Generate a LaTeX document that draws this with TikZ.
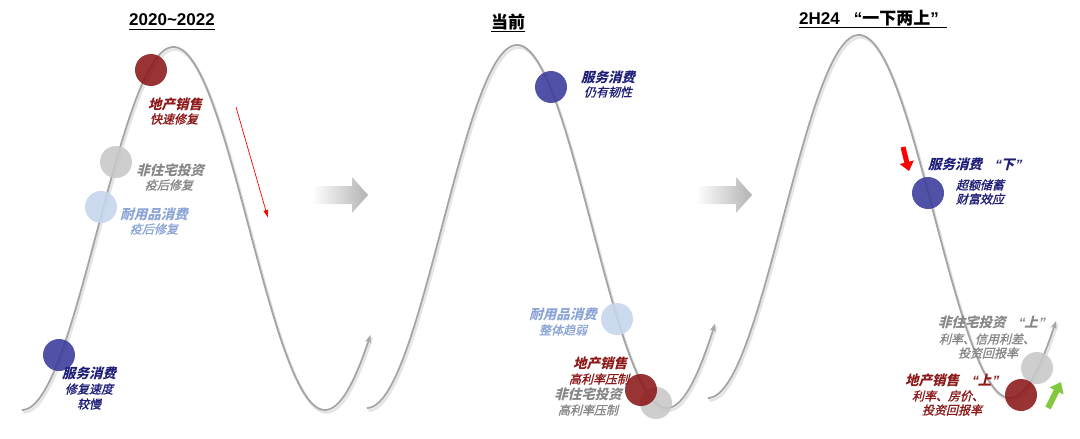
\documentclass[tikz,border=0pt]{standalone}
\usepackage{fontspec}
\setmainfont{Liberation Sans}
\newfontfamily\cjk{Noto Sans CJK SC}
\newfontfamily\cjki{Noto Sans CJK SC}[FakeSlant=0.25]
\newfontfamily\cjkm{Noto Sans CJK SC}[FakeSlant=0.25,FakeBold=1.2]
\newfontfamily\lati{Liberation Sans}[FakeSlant=0.25]
\usetikzlibrary{arrows.meta}
\definecolor{dred}{RGB}{140,24,24}
\definecolor{cnavy}{RGB}{30,30,120}
\definecolor{cblue}{RGB}{58,58,155}
\definecolor{lblue}{RGB}{140,165,215}
\definecolor{clblue}{RGB}{198,214,238}
\definecolor{tgray}{RGB}{135,135,135}
\definecolor{cgray}{RGB}{200,200,200}
\definecolor{curvegray}{RGB}{165,165,165}
\definecolor{lgreen}{RGB}{130,200,60}
\newcommand\mywave[5]{%
  \draw[wavesh, domain=#1:#5, samples=160, shift={(1.5,2.5)}] plot (\x, {#3-#4*(1-cos(((\x-#1)/#2)*360))/2});
  \draw[wavecurve, domain=#1:#5, samples=160] plot (\x, {#3-#4*(1-cos(((\x-#1)/#2)*360))/2});
}
\newcommand\myq[1]{{\lati\bfseries “}#1{\lati\bfseries ”}}
\tikzset{
  wavecurve/.style={draw=curvegray, line width=1.8pt, -{Stealth[length=8pt,width=6pt]}},
  wavesh/.style={draw=black!10, line width=2.6pt},
  bigdot/.style={circle, minimum size=32pt, inner sep=0pt, fill opacity=0.88, draw=none},
  hd/.style={font=\cjki\bfseries\fontsize{13.5}{15}\selectfont, inner sep=0pt},
  sb/.style={font=\cjkm\fontsize{12}{14}\selectfont, inner sep=0pt},
  ttl/.style={font=\bfseries\fontsize{17}{20}\selectfont, inner sep=0pt},
  uline/.style={line width=1.3pt, black},
  bigarrow/.style={left color=white, right color=black!30},
  blockred/.style={draw=red, line width=5pt, -{Triangle[length=9pt,width=14pt]}},
  blockgreen/.style={draw=lgreen, line width=6pt, -{Triangle[length=10pt,width=15pt]}},
}
\begin{document}
\begin{tikzpicture}[x=1pt,y=-1pt]
\useasboundingbox[fill=white] (0,0) rectangle (1080,439);

% ---------- curves ----------
\mywave{22}{303}{410}{363}{370.5}
\mywave{367}{300}{408}{363}{715}
\mywave{708}{302}{398}{363}{1056}

% ---------- titles ----------
\node[ttl] (t1) at (172,20) {2020\textasciitilde2022};
\draw[uline] ([yshift=-3pt]t1.south west) -- ([yshift=-3pt]t1.south east);
\node[ttl, font=\cjk\bfseries\fontsize{17}{20}\selectfont] (t2) at (508,22) {当前};
\draw[uline] ([yshift=-1pt]t2.south west) -- ([yshift=-1pt]t2.south east);
\node[ttl, anchor=west] (t3) at (799,18) {2H24\hspace{14pt}“{\cjk\bfseries 一下两上}”};
\draw[uline] ([yshift=-1pt]t3.south west) -- ([yshift=-1pt,xshift=8pt]t3.south east);

% ---------- panel 1 ----------
\node[bigdot, fill=cgray] (p1g) at (116,162) {};
\node[bigdot, fill=clblue] (p1l) at (101,207) {};
\node[bigdot, fill=dred] (p1r) at (151,70) {};
\node[bigdot, fill=cblue] (p1b) at (59,355) {};
\node[hd, text=dred] (p1rt) at (175,104) {地产销售};
\node[sb, text=dred] (p1rs) at (174,119) {快速修复};
\node[hd, text=tgray] (p1gt) at (170,170) {非住宅投资};
\node[sb, text=tgray] (p1gs) at (169,185) {疫后修复};
\node[hd, text=lblue] (p1lt) at (154,214) {耐用品消费};
\node[sb, text=lblue] (p1ls) at (154,229) {疫后修复};
\node[hd, text=cnavy] (p1bt) at (89,373) {服务消费};
\node[sb, text=cnavy] (p1bs) at (89,389) {修复速度};
\node[sb, text=cnavy] (p1bs2) at (89,404) {较慢};
\coordinate (ra) at (236,107);
\coordinate (rb) at (268,218);
\draw[red, line width=0.7pt, -{Latex[length=8pt,width=5pt]}] (ra) -- (rb);

% big gray arrows
\shade[bigarrow] (312,186) -- (352,186) -- (352,177) -- (368,195) -- (352,213) -- (352,204) -- (312,204) -- cycle;
\shade[bigarrow] (696,186) -- (736,186) -- (736,177) -- (752,195) -- (736,213) -- (736,204) -- (696,204) -- cycle;

% ---------- panel 2 ----------
\node[bigdot, fill=cblue] (p2b) at (551,87) {};
\node[bigdot, fill=clblue] (p2l) at (617,319) {};
\node[bigdot, fill=cgray] (p2g) at (656,403) {};
\node[bigdot, fill=dred] (p2r) at (641,390) {};
\node[hd, text=cnavy] (p2bt) at (608,77) {服务消费};
\node[sb, text=cnavy] (p2bs) at (608,92) {仍有韧性};
\node[hd, text=lblue] (p2lt) at (563,314) {耐用品消费};
\node[sb, text=lblue] (p2ls) at (563,330) {整体趋弱};
\node[hd, text=dred] (p2rt) at (600,363) {地产销售};
\node[sb, text=dred] (p2rs) at (599,379) {高利率压制};
\node[hd, text=tgray] (p2gt) at (588,394) {非住宅投资};
\node[sb, text=tgray] (p2gs) at (588,410) {高利率压制};

% ---------- panel 3 ----------
\node[bigdot, fill=cblue] (p3b) at (928,193) {};
\node[bigdot, fill=cgray] (p3g) at (1037,368) {};
\node[bigdot, fill=dred] (p3r) at (1021,395) {};
\node[hd, text=cnavy, anchor=west] (p3bt) at (928,164) {服务消费\hspace{12pt}\myq{下}};
\node[sb, text=cnavy] (p3bs) at (980,185) {超额储蓄};
\node[sb, text=cnavy] (p3bs2) at (980,199) {财富效应};
\node[hd, text=tgray, anchor=west] (p3gt) at (938,322) {非住宅投资\hspace{12pt}\myq{上}};
\node[sb, text=tgray] (p3gs) at (987,339) {利率、信用利差、};
\node[sb, text=tgray] (p3gs2) at (988,353) {投资回报率};
\node[hd, text=dred, anchor=west] (p3rt) at (905,380) {地产销售\hspace{12pt}\myq{上}};
\node[sb, text=dred] (p3rs) at (948,396) {利率、房价、};
\node[sb, text=dred] (p3rs2) at (952,410) {投资回报率};
\coordinate (da) at (903,147);
\coordinate (db) at (909,171);
\draw[blockred] (da) -- (db);
\coordinate (ga) at (1048,408);
\coordinate (gb) at (1061,382);
\draw[blockgreen] (ga) -- (gb);
\end{tikzpicture}
\end{document}
